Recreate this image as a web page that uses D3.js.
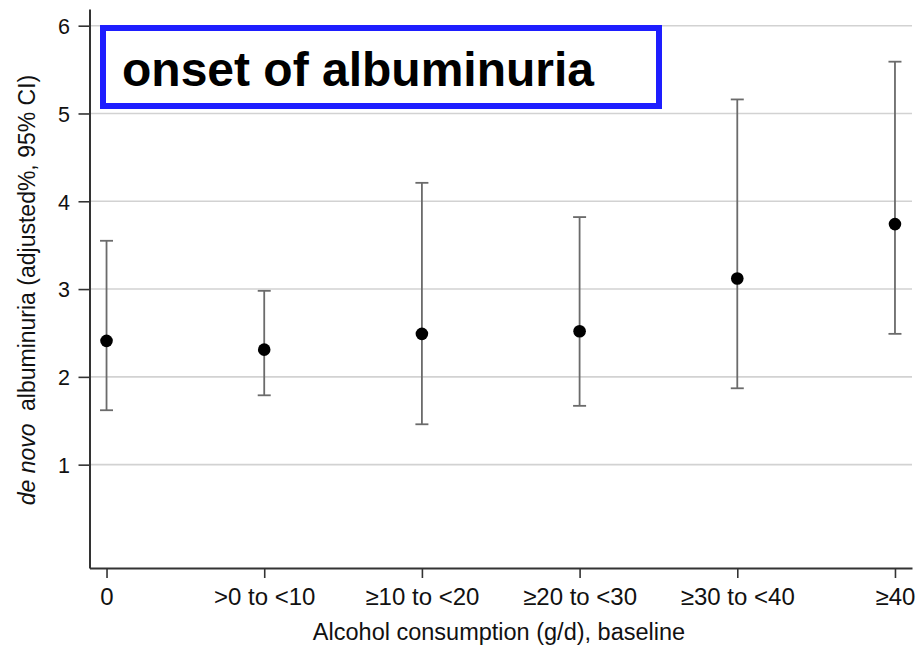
<!DOCTYPE html>
<html>
<head>
<meta charset="utf-8">
<script src="https://cdn.jsdelivr.net/npm/d3@7"></script>
<style>
  html, body { margin: 0; padding: 0; background: #fff; }
  svg { display: block; font-family: "Liberation Sans", Arial, Helvetica, sans-serif; }
</style>
</head>
<body>
<svg id="chart" width="922" height="647"></svg>
<script>
// Alcohol consumption categories (g/d at baseline)
const categories = ["0", ">0 to <10", "≥10 to <20", "≥20 to <30", "≥30 to <40", "≥40"];
// Adjusted incidence of de novo albuminuria (%) with 95% CI
const estimates = [2.41, 2.31, 2.49, 2.52, 3.12, 3.74];
const lowerCI   = [1.62, 1.79, 1.46, 1.67, 1.87, 2.49];
const upperCI   = [3.55, 2.98, 4.21, 3.82, 5.16, 5.59];
const yTicks    = [1, 2, 3, 4, 5, 6];
const boxTitle  = "onset of albuminuria";

const svg = d3.select("#chart");

const x = d3.scalePoint()
  .domain(categories)
  .range([89.5, 912])
  .padding(0.108);

const y = d3.scaleLinear()
  .domain([-0.177, 6.19])
  .range([568, 9]);

// horizontal gridlines
svg.append("g")
  .selectAll("line")
  .data(yTicks)
  .join("line")
  .attr("x1", 90.5)
  .attr("x2", 912)
  .attr("y1", d => y(d))
  .attr("y2", d => y(d))
  .attr("stroke", "#d2d2d2")
  .attr("stroke-width", 1.6);

// y axis
const yAxis = svg.append("g")
  .attr("transform", "translate(89.5,0)")
  .call(d3.axisLeft(y).tickValues(yTicks).tickFormat(d3.format("d")).tickSize(11).tickSizeOuter(0));
yAxis.select(".domain").attr("stroke", "#333").attr("stroke-width", 2);
yAxis.selectAll(".tick line").attr("stroke", "#333").attr("stroke-width", 1.6);
yAxis.selectAll(".tick text")
  .attr("x", -19.5)
  .attr("dy", "0.36em")
  .attr("fill", "#111")
  .style("font-size", "21.5px");

// x axis
const xAxis = svg.append("g")
  .attr("transform", "translate(0,568)")
  .call(d3.axisBottom(x).tickSize(10).tickSizeOuter(0));
xAxis.select(".domain").attr("stroke", "#333").attr("stroke-width", 2);
xAxis.selectAll(".tick line").attr("stroke", "#333").attr("stroke-width", 1.6);
xAxis.selectAll(".tick text")
  .attr("y", 37)
  .attr("dy", 0)
  .attr("fill", "#111")
  .style("font-size", "24px");

// axis titles
svg.append("text")
  .attr("x", 499)
  .attr("y", 640)
  .attr("text-anchor", "middle")
  .attr("fill", "#111")
  .style("font-size", "23.5px")
  .text("Alcohol consumption (g/d), baseline");

const yTitle = svg.append("text")
  .attr("transform", "translate(35,290) rotate(-90)")
  .attr("text-anchor", "middle")
  .attr("fill", "#111")
  .style("font-size", "23px");
yTitle.append("tspan").style("font-style", "italic").text("de novo");
yTitle.append("tspan").attr("dx", 6).text(" albuminuria (adjusted%, 95% CI)");

// confidence intervals
const idx = d3.range(categories.length);
const capHalf = 6.5;
const bars = svg.append("g").attr("stroke", "#6b6b6b").attr("stroke-width", 1.8);
bars.selectAll("line.ci")
  .data(idx)
  .join("line")
  .attr("class", "ci")
  .attr("x1", i => x(categories[i]))
  .attr("x2", i => x(categories[i]))
  .attr("y1", i => y(lowerCI[i]))
  .attr("y2", i => y(upperCI[i]));
bars.selectAll("line.capU")
  .data(idx)
  .join("line")
  .attr("class", "capU")
  .attr("x1", i => x(categories[i]) - capHalf)
  .attr("x2", i => x(categories[i]) + capHalf)
  .attr("y1", i => y(upperCI[i]))
  .attr("y2", i => y(upperCI[i]));
bars.selectAll("line.capL")
  .data(idx)
  .join("line")
  .attr("class", "capL")
  .attr("x1", i => x(categories[i]) - capHalf)
  .attr("x2", i => x(categories[i]) + capHalf)
  .attr("y1", i => y(lowerCI[i]))
  .attr("y2", i => y(lowerCI[i]));

// point estimates
svg.append("g")
  .selectAll("circle")
  .data(idx)
  .join("circle")
  .attr("cx", i => x(categories[i]))
  .attr("cy", i => y(estimates[i]))
  .attr("r", 6.3)
  .attr("fill", "#000");

// boxed heading
svg.append("rect")
  .attr("x", 103)
  .attr("y", 28)
  .attr("width", 556)
  .attr("height", 78)
  .attr("fill", "#fff")
  .attr("stroke", "#1e1eff")
  .attr("stroke-width", 6);
svg.append("text")
  .attr("x", 122)
  .attr("y", 86)
  .attr("fill", "#000")
  .style("font-size", "48px")
  .style("font-weight", "bold")
  .text(boxTitle);
</script>
</body>
</html>
